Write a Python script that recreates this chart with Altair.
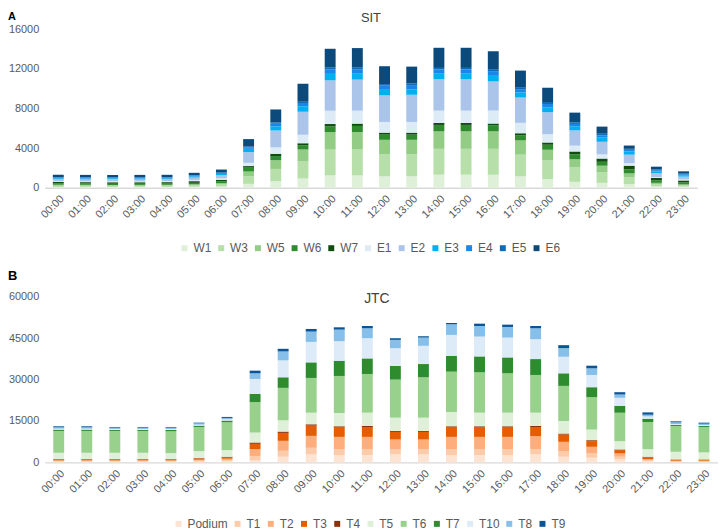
import altair as alt
import pandas as pd

hours = ["00:00", "01:00", "02:00", "03:00", "04:00", "05:00", "06:00", "07:00",
         "08:00", "09:00", "10:00", "11:00", "12:00", "13:00", "14:00", "15:00",
         "16:00", "17:00", "18:00", "19:00", "20:00", "21:00", "22:00", "23:00"]

# ---------------- Panel A : SIT ----------------
sit_series = ["W1", "W3", "W5", "W6", "W7", "E1", "E2", "E3", "E4", "E5", "E6"]
sit_colors = ["#dff0d8", "#b6dfaa", "#93cd85", "#2e8b2e", "#0e4d0e",
              "#ddebf7", "#aac4ea", "#00b0f0", "#1a86e8", "#0b6cb8", "#0c4a7c"]

W1 = [80, 80, 80, 80, 80, 90, 120, 390, 650, 920, 1240, 1240, 1140, 1140, 1310, 1310, 1310, 1140, 880, 590, 490, 360, 130, 100]
W3 = [120, 120, 110, 110, 120, 150, 200, 750, 1240, 1760, 2600, 2610, 2250, 2250, 2610, 2610, 2610, 2190, 1860, 1500, 1080, 690, 200, 130]
W5 = [90, 90, 90, 90, 90, 100, 150, 490, 880, 1180, 1760, 1760, 1440, 1440, 1760, 1760, 1760, 1440, 1080, 780, 650, 390, 160, 100]
W6 = [130, 130, 130, 120, 120, 150, 160, 390, 420, 420, 590, 620, 520, 520, 650, 650, 590, 520, 520, 490, 390, 420, 260, 200]
W7 = [150, 140, 150, 150, 150, 170, 170, 160, 230, 200, 230, 230, 200, 200, 200, 200, 200, 200, 230, 290, 330, 360, 230, 200]
E1 = [80, 80, 80, 80, 90, 100, 130, 330, 650, 850, 1340, 1310, 1080, 1080, 1240, 1240, 1310, 1050, 820, 590, 420, 260, 100, 100]
E2 = [200, 200, 200, 200, 200, 260, 330, 1080, 1700, 2320, 3070, 3130, 2680, 2740, 3170, 3170, 2940, 2550, 2220, 1540, 1270, 850, 390, 290]
E3 = [100, 100, 100, 100, 100, 120, 130, 330, 420, 560, 650, 650, 560, 560, 560, 560, 560, 520, 490, 420, 420, 330, 160, 130]
E4 = [70, 70, 70, 70, 70, 80, 90, 160, 260, 330, 430, 400, 420, 420, 420, 420, 420, 330, 330, 230, 230, 160, 100, 100]
E5 = [50, 50, 50, 50, 50, 50, 60, 100, 130, 130, 200, 200, 160, 160, 160, 160, 200, 200, 200, 160, 160, 100, 100, 70]
E6 = [230, 230, 230, 240, 230, 230, 290, 720, 1310, 1800, 1900, 1930, 1800, 1700, 2030, 2030, 1860, 1670, 1440, 980, 720, 330, 290, 230]
sit_values = [W1, W3, W5, W6, W7, E1, E2, E3, E4, E5, E6]

# ---------------- Panel B : JTC ----------------
jtc_series = ["Podium", "T1", "T2", "T3", "T4", "T5", "T6", "T7", "T10", "T8", "T9"]
jtc_colors = ["#fde3d2", "#fccbaa", "#fdae7c", "#e65c00", "#8a3108",
              "#dff0d8", "#98d18b", "#2e8b2e", "#ddebf8", "#86bfe9", "#0b5597"]

Podium = [240, 240, 240, 240, 240, 240, 360, 840, 2040, 2880, 2640, 2640, 2880, 2880, 2640, 2640, 2640, 2880, 2040, 1680, 1080, 360, 120, 120]
T1 = [240, 240, 240, 240, 240, 360, 480, 1440, 2160, 2400, 2160, 2160, 1920, 1920, 2160, 2160, 2160, 1920, 2040, 1560, 960, 360, 240, 240]
T2 = [240, 240, 240, 240, 240, 360, 480, 2520, 3600, 4320, 4440, 4440, 3480, 3480, 4440, 4440, 4440, 4680, 3360, 2400, 1200, 480, 240, 240]
T3 = [360, 360, 360, 360, 360, 480, 600, 1920, 2880, 3720, 3360, 3360, 2760, 2760, 3360, 3360, 3360, 3120, 2640, 2040, 1200, 600, 360, 360]
T4 = [120, 120, 120, 120, 120, 120, 120, 480, 480, 480, 480, 600, 360, 360, 480, 480, 480, 600, 360, 360, 240, 240, 120, 120]
T5 = [2280, 2280, 2280, 2280, 2160, 2520, 2400, 3600, 4080, 4200, 4800, 4800, 4800, 4800, 5160, 4920, 4920, 4800, 4560, 3840, 3000, 2760, 2760, 2520]
T6 = [7910, 7910, 7910, 7910, 7910, 8750, 10100, 11030, 11750, 12590, 13430, 14030, 13790, 14630, 14630, 14630, 14270, 13670, 12710, 11750, 10310, 9830, 9350, 9230]
T7 = [480, 480, 360, 360, 480, 480, 600, 3000, 3840, 5640, 5520, 5640, 4920, 4800, 5760, 5760, 5760, 5760, 4560, 3600, 2520, 1200, 360, 360]
T10 = [360, 360, 360, 360, 360, 360, 480, 5400, 6120, 7430, 7070, 7310, 6470, 6590, 7550, 7190, 7190, 7190, 6000, 4440, 2880, 840, 360, 360]
T8 = [480, 480, 480, 480, 480, 480, 480, 2040, 3240, 3720, 4200, 3600, 3000, 3000, 3840, 3840, 3840, 3960, 3120, 2400, 1200, 600, 600, 480]
T9 = [360, 360, 240, 240, 240, 240, 360, 960, 960, 960, 840, 840, 600, 480, 480, 840, 840, 840, 1080, 960, 840, 840, 360, 360]
jtc_values = [Podium, T1, T2, T3, T4, T5, T6, T7, T10, T8, T9]

sit_ticks = [0, 4000, 8000, 12000, 16000]
jtc_ticks = [0, 15000, 30000, 45000, 60000]


def long_table(series, values):
    rows = []
    for k, (name, vals) in enumerate(zip(series, values)):
        for h, v in zip(hours, vals):
            rows.append({"hour": h, "series": name, "value": v, "idx": k})
    return pd.DataFrame(rows)


FONT = "Liberation Sans"
GREY = "#595959"


def panel(df, series, colors, ticks, ymax, width, height, letter, letter_size,
          letter_y, title, title_size, title_x, title_y, leg_x, leg_y, leg_pad):
    bars = alt.Chart(df).mark_bar(size=11).encode(
        x=alt.X("hour:N", sort=hours,
                scale=alt.Scale(paddingInner=0.2, paddingOuter=0.1),
                axis=alt.Axis(title=None, labelAngle=-45, ticks=False,
                              domainColor="#d9d9d9", domainWidth=1.5,
                              labelColor=GREY, labelFontSize=11,
                              labelPadding=5, labelFont=FONT)),
        y=alt.Y("value:Q", stack="zero",
                scale=alt.Scale(domain=[0, ymax], nice=False),
                axis=alt.Axis(title=None, values=ticks, grid=False,
                              domain=False, ticks=False, labelPadding=6,
                              labelFontSize=11, labelColor=GREY,
                              labelFont=FONT, format="d")),
        color=alt.Color("series:N",
                        scale=alt.Scale(domain=series, range=colors),
                        legend=alt.Legend(title=None, orient="none",
                                          legendX=leg_x, legendY=leg_y,
                                          direction="horizontal", columns=11,
                                          symbolType="square", symbolSize=36,
                                          symbolStrokeWidth=0,
                                          labelFontSize=12, labelOffset=3,
                                          columnPadding=leg_pad,
                                          labelColor=GREY, labelFont=FONT)),
        order=alt.Order("idx:Q", sort="ascending"),
    )
    lab = alt.Chart(pd.DataFrame({"t": [letter]})).mark_text(
        align="left", baseline="middle", fontSize=letter_size,
        fontWeight="bold", color="black", font=FONT
    ).encode(text="t:N", x=alt.value(-37), y=alt.value(letter_y))
    ttl = alt.Chart(pd.DataFrame({"t": [title]})).mark_text(
        align="center", baseline="middle", fontSize=title_size,
        color="#404040", font=FONT
    ).encode(text="t:N", x=alt.value(title_x), y=alt.value(title_y))
    return alt.layer(bars, lab, ttl).properties(width=width, height=height)


chart_a = panel(long_table(sit_series, sit_values), sit_series, sit_colors,
                sit_ticks, 16000, 658, 160, "A", 11, -12.5, "SIT", 13, 329,
                -11.5, 135, 215, 4)
chart_b = panel(long_table(jtc_series, jtc_values), jtc_series, jtc_colors,
                jtc_ticks, 60000, 679, 167, "B", 13, -21, "JTC", 14, 335, 2,
                129, 223, 3.5)

chart = alt.vconcat(chart_a, chart_b, spacing=16).resolve_scale(
    color="independent"
).resolve_legend(
    color="independent"
).properties(
    padding=0
).configure(font=FONT).configure_view(stroke=None)

chart.save("out.html", embed_options={"renderer": "svg", "actions": False})
